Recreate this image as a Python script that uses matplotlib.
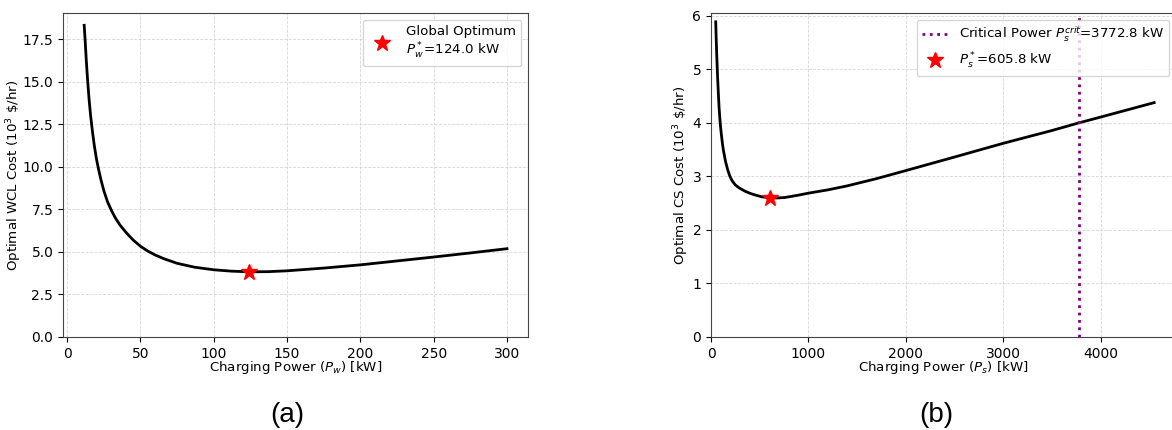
import numpy as np
import matplotlib
matplotlib.use("Agg")
import matplotlib.pyplot as plt

# (a) wireless charging lane cost
pw = [11.6, 12.2, 13.0, 13.8, 15.0, 16.0, 17.2, 18.5, 20.0, 21.3, 23.0, 25.0, 27.5,
      30.4, 33.0, 36.0, 40.6, 45.0, 50.0, 55.0, 60.0, 66.0, 75.0, 87.0, 100.0,
      112.0, 124.0, 137.0, 150.0, 175.0, 200.0, 225.0, 250.0, 275.0, 300.0]
wcl_cost = [18.32, 17.5, 16.3, 15.25, 13.9, 13.0, 12.1, 11.25, 10.45, 9.9, 9.25, 8.6, 7.95,
            7.4, 6.98, 6.58, 6.1, 5.7, 5.33, 5.05, 4.82, 4.6, 4.33, 4.1, 3.95,
            3.87, 3.83, 3.84, 3.89, 4.05, 4.24, 4.47, 4.70, 4.94, 5.19]
pw_opt = 124.0
wcl_opt = 3.83

# (b) charging station cost
ps = [48, 52, 55, 59, 63, 67, 72, 77, 82, 88, 95, 102, 110, 118, 126, 138, 150, 170, 194,
      220, 250, 290, 348, 400, 450, 520, 611, 680, 757, 880, 1006, 1200, 1388, 1700,
      2000, 2513, 3000, 3502, 3773, 4000, 4549]
cs_cost = [5.89, 5.62, 5.45, 5.24, 5.05, 4.86, 4.67, 4.48, 4.30, 4.14, 3.98, 3.85, 3.72,
           3.60, 3.50, 3.38, 3.27, 3.13, 3.00, 2.91, 2.84, 2.785, 2.725, 2.685, 2.655, 2.62,
           2.60, 2.598, 2.607, 2.645, 2.69, 2.75, 2.82, 2.96, 3.11, 3.37, 3.62, 3.86, 4.0,
           4.11, 4.38]
ps_opt = 605.8
cs_opt = 2.59
ps_crit = 3772.8

fig = plt.figure(figsize=(11.72, 4.30), dpi=100)
ax1 = fig.add_axes([0.0538, 0.2163, 0.3968, 0.7535])
ax2 = fig.add_axes([0.6067, 0.2163, 0.3968, 0.7535])

for ax in (ax1, ax2):
    ax.grid(True, linestyle='--', linewidth=0.6, color='#cccccc', alpha=0.8)
    ax.set_axisbelow(True)
    for s in ax.spines.values():
        s.set_color('#444444')
    ax.tick_params(labelsize=10)

ax1.plot(pw, wcl_cost, color='black', lw=2)
ax1.plot([pw_opt], [wcl_opt], marker='*', color='red', ms=12, ls='none',
         label='Global Optimum\n$P_w^*$=124.0 kW')
ax1.set_ylim(bottom=0)
ax1.set_xlabel('Charging Power ($P_w$) [kW]', fontsize=9.6, labelpad=-1)
ax1.set_ylabel(r'Optimal WCL Cost ($10^3$ \$/hr)', fontsize=9.6, labelpad=-1)
ax1.legend(loc='upper right', fontsize=9.6)

ax2.plot(ps, cs_cost, color='black', lw=2)
ax2.axvline(ps_crit, color='purple', ls=':', lw=2,
            label='Critical Power $P_s^{crit}$=3772.8 kW')
ax2.plot([ps_opt], [cs_opt], marker='*', color='red', ms=12, ls='none',
         label='$P_s^*$=605.8 kW')
ax2.set_xlim(left=0)
ax2.set_ylim(bottom=0)
ax2.set_xlabel('Charging Power ($P_s$) [kW]', fontsize=9.6, labelpad=-1)
ax2.set_ylabel(r'Optimal CS Cost ($10^3$ \$/hr)', fontsize=9.6, labelpad=1)
ax2.legend(loc='upper right', fontsize=9.6)

fig.text(287 / 1172, 1 - 415 / 430, '(a)', ha='center', va='center',
         fontsize=20, family='Liberation Sans')
fig.text(936 / 1172, 1 - 415 / 430, '(b)', ha='center', va='center',
         fontsize=20, family='Liberation Sans')

plt.savefig('out.png', dpi=100)
